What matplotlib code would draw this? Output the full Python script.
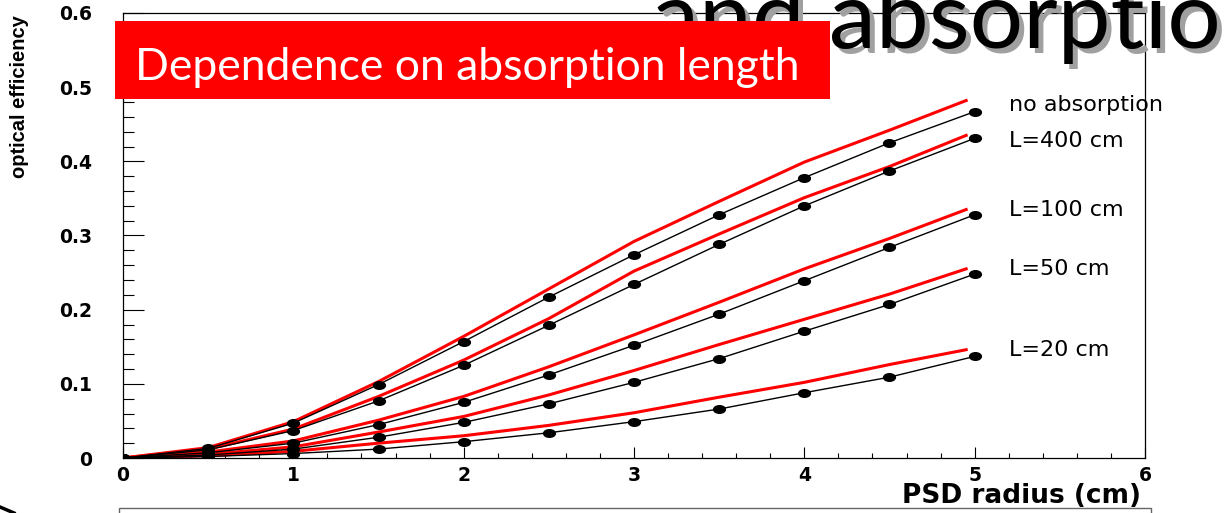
import numpy as np
import matplotlib.pyplot as plt
from matplotlib.path import Path
from matplotlib.transforms import Affine2D, offset_copy
from matplotlib.patches import Rectangle
from matplotlib.lines import Line2D
from matplotlib.ticker import MultipleLocator, FuncFormatter

# PSD radius (cm) for the simulated points
radius = [0, 0.5, 1, 1.5, 2, 2.5, 3, 3.5, 4, 4.5, 5]
# radius for the fitted (red) curves
radius_fit = [0, 0.5, 1, 1.5, 2, 2.5, 3, 3.5, 4, 4.5, 4.95]

labels = ["no absorption", "L=400 cm", "L=100 cm", "L=50 cm", "L=20 cm"]

eff_noabs = [0, 0.013, 0.047, 0.099, 0.157, 0.217, 0.274, 0.328, 0.378, 0.425, 0.467]
eff_400 = [0, 0.011, 0.037, 0.077, 0.125, 0.179, 0.234, 0.288, 0.340, 0.387, 0.431]
eff_100 = [0, 0.007, 0.020, 0.045, 0.075, 0.112, 0.152, 0.194, 0.239, 0.284, 0.328]
eff_50 = [0, 0.004, 0.012, 0.028, 0.048, 0.073, 0.102, 0.134, 0.171, 0.207, 0.248]
eff_20 = [0, 0.002, 0.006, 0.012, 0.022, 0.034, 0.049, 0.066, 0.088, 0.109, 0.137]

fit_noabs = [0, 0.014, 0.049, 0.103, 0.164, 0.228, 0.292, 0.346, 0.399, 0.442, 0.482]
fit_400 = [0, 0.012, 0.039, 0.083, 0.132, 0.188, 0.252, 0.302, 0.351, 0.393, 0.435]
fit_100 = [0, 0.008, 0.023, 0.051, 0.083, 0.123, 0.166, 0.210, 0.255, 0.296, 0.335]
fit_50 = [0, 0.005, 0.015, 0.035, 0.056, 0.085, 0.118, 0.153, 0.187, 0.221, 0.255]
fit_20 = [0, 0.003, 0.009, 0.020, 0.030, 0.044, 0.061, 0.082, 0.102, 0.126, 0.146]

effs = [eff_noabs, eff_400, eff_100, eff_50, eff_20]
fits = [fit_noabs, fit_400, fit_100, fit_50, fit_20]
# small vertical nudges (pixels) so the top two labels don't collide
label_nudge = [-4, -6, 0, 0, 0]

fig = plt.figure(figsize=(12.31, 5.13), dpi=100)
ax = fig.add_axes([123 / 1231, 1 - 458 / 513, (1145 - 123) / 1231, (458 - 13) / 513])

# stretched dot marker (the original image is widened)
dot = Path.unit_circle().transformed(Affine2D().scale(1.55, 1.0))

for eff, fit, lab, nud in zip(effs, fits, labels, label_nudge):
    ax.plot(radius, eff, color="black", lw=1.0, marker=dot, ms=8.5, zorder=3)
    ax.plot(radius_fit, fit, color="red", lw=2.2, zorder=2)
    tr = offset_copy(ax.transData, fig=fig, x=0, y=nud * 0.72, units="points")
    ax.text(5.2, fit[-1], lab, fontsize=16, family="DejaVu Sans", transform=tr,
            ha="left", va="center", clip_on=False)

ax.set_xlim(0, 6)
ax.set_ylim(0, 0.6)
ax.xaxis.set_major_locator(MultipleLocator(1))
ax.xaxis.set_minor_locator(MultipleLocator(0.2))
ax.yaxis.set_major_locator(MultipleLocator(0.1))
ax.yaxis.set_minor_locator(MultipleLocator(0.02))
ax.yaxis.set_major_formatter(FuncFormatter(lambda v, p: "0" if v == 0 else f"{v:.1f}"))
ax.xaxis.set_major_formatter(FuncFormatter(lambda v, p: f"{v:.0f}"))
ax.tick_params(axis="x", which="major", direction="in", length=8, width=0.8, pad=6)
ax.tick_params(axis="x", which="minor", direction="in", length=3.6, width=0.8)
ax.tick_params(axis="y", which="major", direction="in", length=15, width=0.8, pad=22)
ax.tick_params(axis="y", which="minor", direction="in", length=8, width=0.8)
for t in ax.get_xticklabels() + ax.get_yticklabels():
    t.set_fontweight("bold")
    t.set_fontsize(13.5)
    t.set_family("DejaVu Sans")
for s in ax.spines.values():
    s.set_linewidth(0.9)

fig.text(20 / 1231, 1 - 15 / 513, "optical efficiency", rotation=90,
         ha="center", va="top", fontsize=14.5, fontweight="bold",
         family="Liberation Sans")
fig.text(1141 / 1231, 1 - 496 / 513, "PSD radius (cm)", ha="right", va="center",
         fontsize=19, fontweight="bold", family="DejaVu Sans")

# slide decorations
big = "and absorptio"
fig.text(657 / 1231, 1 - 53 / 513, big, fontsize=68, family="Lato", color="#a0a0a0",
         ha="left", va="baseline")
fig.text(652 / 1231, 1 - 48 / 513, big, fontsize=68, family="Lato", color="black",
         ha="left", va="baseline")

fig.patches.append(Rectangle((115 / 1231, 1 - 99 / 513), 715 / 1231, 78 / 513,
                             transform=fig.transFigure, facecolor="#ff0000",
                             edgecolor="none", zorder=5))
fig.text(135 / 1231, 1 - 80 / 513, "Dependence on absorption length", fontsize=32,
         family="Lato", color="white", ha="left", va="baseline", zorder=6)

fig.patches.append(Rectangle((119 / 1231, -0.1), 1032 / 1231, 0.1 + 5 / 513,
                             transform=fig.transFigure, facecolor="none",
                             edgecolor="#666666", lw=1.0))
fig.lines.append(Line2D([0, 14 / 1231], [1 - 507 / 513, 0], transform=fig.transFigure,
                        color="black", lw=2.5))

fig.savefig("out.png", dpi=100)
